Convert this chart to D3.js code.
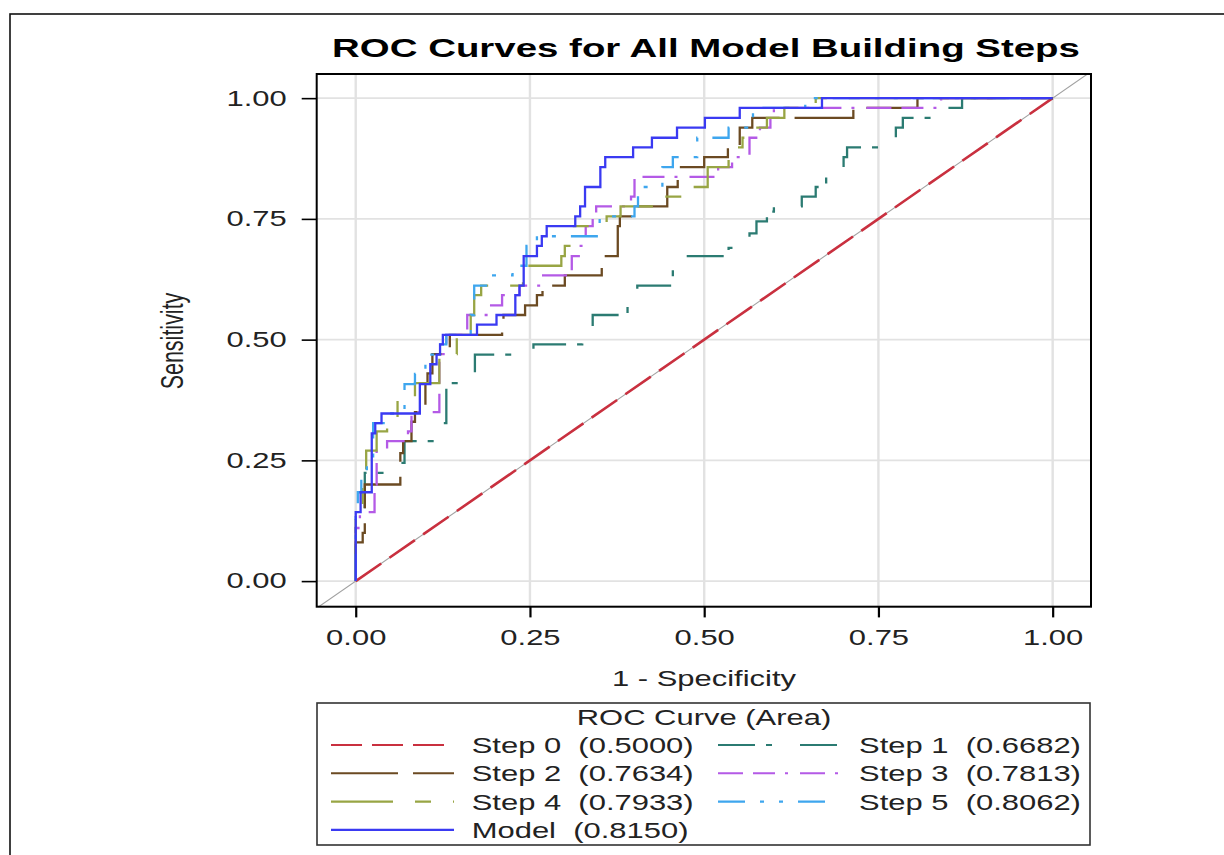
<!DOCTYPE html>
<html>
<head>
<meta charset="utf-8">
<script src="https://cdn.jsdelivr.net/npm/d3@7"></script>
<style>
  html, body { margin: 0; padding: 0; background: #fff; }
  svg { display: block; font-family: Arial, "Liberation Sans", sans-serif; }
  text { white-space: pre; }
</style>
</head>
<body>
<svg id="chart" width="1224" height="855"></svg>
<script>
// ROC curves (1 - specificity, sensitivity) for each model building step
const seriesNames = ["Step 0", "Step 1", "Step 2", "Step 3", "Step 4", "Step 5", "Model"];
const seriesAreas = ["0.5000", "0.6682", "0.7634", "0.7813", "0.7933", "0.8062", "0.8150"];

const step0 = [[0, 0], [1, 1]];
const step1 = [[0,0],[0,0.12],[0.013,0.224],[0.049,0.245],[0.07,0.29],[0.115,0.327],[0.13,0.41],[0.15,0.43],[0.171,0.469],[0.23,0.48],[0.255,0.49],[0.325,0.51],[0.34,0.551],[0.39,0.571],[0.404,0.612],[0.455,0.653],[0.455,0.673],[0.535,0.69],[0.555,0.70],[0.565,0.72],[0.575,0.745],[0.59,0.765],[0.60,0.776],[0.64,0.796],[0.66,0.816],[0.675,0.837],[0.70,0.878],[0.705,0.898],[0.765,0.918],[0.775,0.939],[0.785,0.959],[0.85,0.98],[0.87,1],[1,1]];
const step2 = [[0,0],[0,0.08],[0.01,0.10],[0.013,0.20],[0.064,0.265],[0.068,0.29],[0.08,0.33],[0.085,0.35],[0.10,0.41],[0.103,0.43],[0.11,0.47],[0.135,0.51],[0.21,0.531],[0.212,0.551],[0.243,0.571],[0.26,0.592],[0.268,0.612],[0.30,0.633],[0.353,0.653],[0.353,0.673],[0.376,0.735],[0.379,0.755],[0.405,0.776],[0.447,0.816],[0.462,0.857],[0.50,0.878],[0.534,0.898],[0.551,0.939],[0.569,0.959],[0.714,0.98],[0.806,1],[1,1]];
const step3 = [[0,0],[0,0.11],[0.006,0.143],[0.027,0.20],[0.03,0.27],[0.045,0.29],[0.075,0.31],[0.08,0.35],[0.12,0.47],[0.13,0.51],[0.16,0.551],[0.19,0.571],[0.21,0.592],[0.235,0.612],[0.265,0.633],[0.31,0.673],[0.32,0.694],[0.33,0.735],[0.34,0.755],[0.345,0.776],[0.395,0.796],[0.40,0.837],[0.52,0.857],[0.54,0.878],[0.565,0.918],[0.58,0.939],[0.595,0.959],[0.60,0.98],[0.84,1],[1,1]];
const step4 = [[0,0],[0,0.13],[0.01,0.20],[0.015,0.27],[0.03,0.31],[0.045,0.33],[0.06,0.38],[0.085,0.41],[0.12,0.47],[0.145,0.51],[0.165,0.551],[0.17,0.592],[0.18,0.612],[0.24,0.653],[0.295,0.673],[0.30,0.694],[0.31,0.735],[0.36,0.755],[0.38,0.776],[0.44,0.796],[0.48,0.816],[0.505,0.857],[0.535,0.878],[0.545,0.898],[0.555,0.918],[0.565,0.939],[0.59,0.959],[0.615,0.98],[0.66,1],[1,1]];
const step5 = [[0,0],[0,0.16],[0.003,0.184],[0.008,0.224],[0.016,0.245],[0.025,0.327],[0.04,0.347],[0.07,0.408],[0.085,0.429],[0.10,0.469],[0.115,0.49],[0.13,0.51],[0.165,0.551],[0.17,0.612],[0.19,0.633],[0.225,0.653],[0.245,0.694],[0.26,0.714],[0.35,0.755],[0.40,0.776],[0.405,0.816],[0.44,0.857],[0.455,0.878],[0.49,0.918],[0.535,0.939],[0.565,0.959],[0.57,0.98],[0.645,1],[1,1]];
const model = [[0,0],[0,0.143],[0.007,0.184],[0.023,0.306],[0.028,0.327],[0.037,0.347],[0.092,0.408],[0.107,0.449],[0.116,0.469],[0.121,0.49],[0.125,0.51],[0.174,0.531],[0.202,0.551],[0.229,0.592],[0.235,0.612],[0.241,0.673],[0.26,0.694],[0.267,0.714],[0.274,0.735],[0.315,0.755],[0.322,0.776],[0.329,0.816],[0.351,0.857],[0.358,0.878],[0.398,0.898],[0.425,0.918],[0.461,0.939],[0.501,0.959],[0.551,0.98],[0.669,1],[1,1]];

const axisTicks = [0, 0.25, 0.5, 0.75, 1];
const chartTitle = "ROC Curves for All Model Building Steps";
const xTitle = "1 - Specificity";
const yTitle = "Sensitivity";
const legendTitle = "ROC Curve (Area)";

// appearance
const seriesData = [step0, step1, step2, step3, step4, step5, model];
const colors = ["#c9303f", "#2b7b72", "#6b4a22", "#b45ae6", "#98a544", "#3ea6ee", "#3a3af2"];
const dashes = ["31,10", "37,11,6,28", "67,15", "25,10,22,10,3,12", "62,22,16,22", "27,15,4,15,4,15", null];
const widths = [2.6, 2.3, 2.3, 2.3, 2.3, 2.3, 2.3];
const SX = 1.44;          // horizontal text stretch
const FONT = 21.5;

const svg = d3.select("#chart");
const plot = { left: 316.7, right: 1091, top: 74, bottom: 606.7 };

const x = d3.scaleLinear().domain([-0.056, 1.055]).range([plot.left, plot.right]);
const y = d3.scaleLinear().domain([-0.053, 1.050]).range([plot.bottom, plot.top]);

function sText(g, str, px, py, opt = {}) {
  return g.append("text")
    .attr("transform", `translate(${px},${py}) scale(${opt.sx || SX},1)${opt.rotate ? " rotate(" + opt.rotate + ")" : ""}`)
    .attr("text-anchor", opt.anchor || "start")
    .style("font-size", (opt.size || FONT) + "px")
    .style("font-weight", opt.weight || "normal")
    .attr("fill", opt.fill || "#222")
    .text(str);
}

// outer frame
svg.append("rect").attr("x", 10).attr("y", 14).attr("width", 1240).attr("height", 900)
  .attr("fill", "none").attr("stroke", "#111").attr("stroke-width", 1.6);

// title
sText(svg, chartTitle, 706, 57, { anchor: "middle", size: 26.5, weight: "bold", fill: "#000", sx: 1.45 });

// clip
svg.append("defs").append("clipPath").attr("id", "plotClip")
  .append("rect").attr("x", plot.left).attr("y", plot.top)
  .attr("width", plot.right - plot.left).attr("height", plot.bottom - plot.top);

// grid
const grid = svg.append("g");
grid.selectAll(".gx").data(axisTicks).join("line")
  .attr("x1", d => x(d)).attr("x2", d => x(d)).attr("y1", plot.top).attr("y2", plot.bottom)
  .attr("stroke", "#e2e2e2").attr("stroke-width", 2.4);
grid.selectAll(".gy").data(axisTicks).join("line")
  .attr("x1", plot.left).attr("x2", plot.right).attr("y1", d => y(d)).attr("y2", d => y(d))
  .attr("stroke", "#e2e2e2").attr("stroke-width", 1.7);

const curves = svg.append("g").attr("clip-path", "url(#plotClip)");

// diagonal reference across the whole plot
const xd = x.domain();
curves.append("line")
  .attr("x1", x(xd[0])).attr("y1", y(xd[0])).attr("x2", x(xd[1])).attr("y2", y(xd[1]))
  .attr("stroke", "#a0a0a0").attr("stroke-width", 1.1);

const stepLine = d3.line().x(d => x(d[0])).y(d => y(d[1])).curve(d3.curveStepAfter);
const straightLine = d3.line().x(d => x(d[0])).y(d => y(d[1]));

seriesData.forEach((data, i) => {
  curves.append("path")
    .datum(data)
    .attr("d", i === 0 ? straightLine : stepLine)
    .attr("fill", "none")
    .attr("stroke", colors[i])
    .attr("stroke-width", widths[i])
    .attr("stroke-dasharray", dashes[i]);
});

// axes
const fmt = d3.format(".2f");
const gy = svg.append("g").attr("transform", `translate(${plot.left},0)`)
  .call(d3.axisLeft(y).tickValues(axisTicks).tickFormat(fmt).tickSize(15).tickSizeOuter(0));
gy.attr("font-size", null).attr("font-family", null);
gy.select(".domain").remove();
gy.selectAll(".tick line").attr("stroke", "#000").attr("stroke-width", 1.6);
gy.selectAll(".tick text").attr("x", null).attr("dy", "0.32em")
  .attr("transform", `translate(-30,0) scale(${SX},1)`)
  .style("font-size", FONT + "px").attr("fill", "#222");

const gx = svg.append("g").attr("transform", `translate(0,${plot.bottom})`)
  .call(d3.axisBottom(x).tickValues(axisTicks).tickFormat(fmt).tickSize(10.7).tickSizeOuter(0));
gx.attr("font-size", null).attr("font-family", null);
gx.select(".domain").remove();
gx.selectAll(".tick line").attr("stroke", "#000").attr("stroke-width", 2.2);
gx.selectAll(".tick text").attr("y", 23).attr("dy", "0.71em")
  .attr("transform", `scale(${SX},1)`)
  .style("font-size", FONT + "px").attr("fill", "#222");

// plot frame
svg.append("rect").attr("x", plot.left).attr("y", plot.top)
  .attr("width", plot.right - plot.left).attr("height", plot.bottom - plot.top)
  .attr("fill", "none").attr("stroke", "#000").attr("stroke-width", 2);

// axis titles
sText(svg, xTitle, 704, 686, { anchor: "middle" });
sText(svg, yTitle, 183, 341, { anchor: "middle", rotate: -90 });

// legend
const lg = svg.append("g");
lg.append("rect").attr("x", 317).attr("y", 703).attr("width", 773).attr("height", 142)
  .attr("fill", "#fff").attr("stroke", "#333").attr("stroke-width", 1.6);
sText(lg, legendTitle, 704, 725, { anchor: "middle" });

const colX = [{ l0: 331, l1: 454, t: 471.7 }, { l0: 718, l1: 838, t: 859 }];
seriesNames.forEach((name, i) => {
  const c = colX[i % 2];
  const rowY = 745 + Math.floor(i / 2) * 28.3;
  lg.append("line").attr("x1", c.l0).attr("x2", c.l1).attr("y1", rowY).attr("y2", rowY)
    .attr("stroke", colors[i]).attr("stroke-width", 2.1).attr("stroke-dasharray", dashes[i]);
  sText(lg, `${name}  (${seriesAreas[i]})`, c.t, rowY + 8);
});
</script>
</body>
</html>
